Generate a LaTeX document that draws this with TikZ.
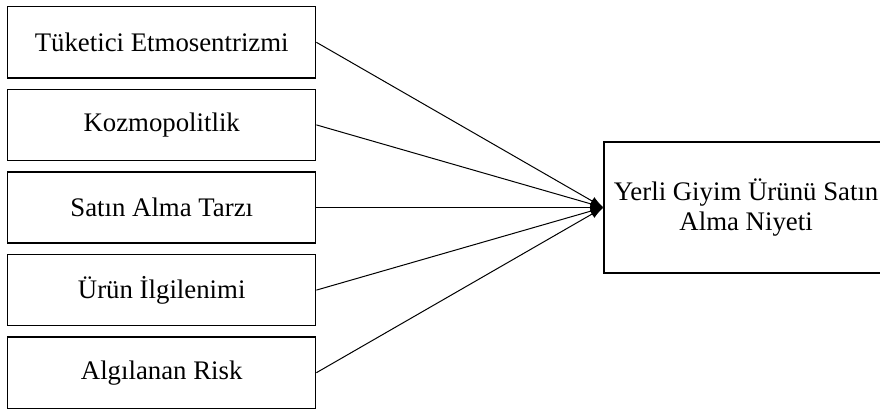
\documentclass[tikz,border=0pt]{standalone}
\usepackage{fontspec}
\setmainfont{Liberation Serif}
\usepackage{tikz}
\usetikzlibrary{shapes,arrows,arrows.meta,positioning,calc,fit}
\usepackage{xcolor}

\begin{document}
\begin{tikzpicture}[
    factor/.style={rectangle, draw, line width=0.7pt, minimum width=154pt, minimum height=35.6pt, inner sep=0pt, font=\fontsize{13.4}{15}\selectfont},
    outcome/.style={rectangle, draw, line width=0.7pt, minimum width=142pt, minimum height=65.5pt, inner sep=0pt, align=center, font=\fontsize{13.4}{15}\selectfont},
    arrow/.style={-{Latex[length=6.5pt, width=4.5pt]}, line width=0.5pt},
    node distance=5pt
]
    \useasboundingbox (0,0) rectangle (440pt,-206.5pt);

    % Predictors
    \node[factor, anchor=north west] (etmo) at (3.5pt,-3pt) {Tüketici Etmosentrizmi};
    \node[factor, below=of etmo] (kozmo) {Kozmopolitlik};
    \node[factor, below=of kozmo] (tarz) {Satın Alma Tarzı};
    \node[factor, below=of tarz] (ilgi) {Ürün İlgilenimi};
    \node[factor, below=of ilgi] (risk) {Algılanan Risk};

    % Outcome
    \node[outcome, right=143.5pt of tarz] (niyet) {Yerli Giyim Ürünü Satın\\Alma Niyeti};

    % Arrows
    \draw[arrow] (etmo.east) -- (niyet.west);
    \draw[arrow] (kozmo.east) -- (niyet.west);
    \draw[arrow] (tarz.east) -- (niyet.west);
    \draw[arrow] (ilgi.east) -- (niyet.west);
    \draw[arrow] (risk.east) -- (niyet.west);

\end{tikzpicture}
\end{document}
